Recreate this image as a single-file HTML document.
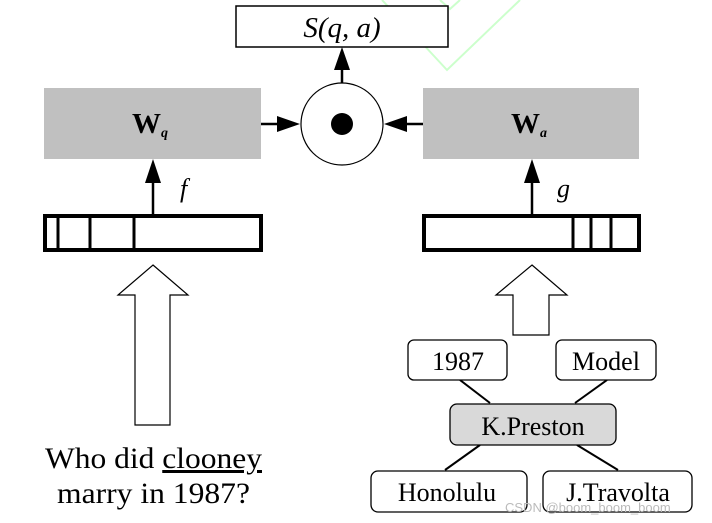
<!DOCTYPE html>
<html><head><style>body{margin:0;background:#fff}svg{display:block}</style></head><body>
<svg width="712" height="523" viewBox="0 0 712 523" xmlns="http://www.w3.org/2000/svg" font-family="Liberation Serif, serif">
<polyline points="382,0 447,70 520,0" fill="none" stroke="#ccffcc" stroke-width="2"/>
<polyline points="440,0 450,9 460,0" fill="none" stroke="#ccffcc" stroke-width="2"/>
<rect x="236" y="6" width="212" height="41" fill="#fff" stroke="#000" stroke-width="1.5"/>
<text x="342" y="37" font-size="29" font-style="italic" text-anchor="middle">S(q, a)</text>
<rect x="44" y="88" width="217" height="71" fill="#c0c0c0"/>
<rect x="423" y="88" width="216" height="71" fill="#c0c0c0"/>
<text x="132" y="133" font-size="29" font-weight="bold">W<tspan font-size="14" font-style="italic" dy="4">q</tspan></text>
<text x="511" y="133" font-size="29" font-weight="bold">W<tspan font-size="14" font-style="italic" dy="4">a</tspan></text>
<circle cx="342" cy="124" r="41" fill="#fff" stroke="#000" stroke-width="1.2"/>
<circle cx="342" cy="124" r="11" fill="#000"/>
<g stroke="#000" stroke-width="2.5">
<line x1="342" y1="83" x2="342" y2="65"/>
<line x1="261" y1="124" x2="282" y2="124"/>
<line x1="423" y1="124" x2="402" y2="124"/>
<line x1="153" y1="215" x2="153" y2="180"/>
<line x1="532" y1="215" x2="532" y2="180"/>
</g>
<polygon points="342,47 334,70 350,70"/>
<polygon points="300,124 277,116 277,132"/>
<polygon points="384,124 407,116 407,132"/>
<polygon points="153,159 145,183 161,183"/>
<polygon points="532,159 524,183 540,183"/>
<text x="180" y="197" font-size="26" font-style="italic">f</text>
<text x="557" y="197" font-size="26" font-style="italic">g</text>
<g fill="#fff" stroke="#000" stroke-width="4">
<rect x="45" y="216" width="216" height="34"/>
<rect x="424" y="216" width="215" height="34"/>
</g>
<g stroke="#000" stroke-width="3">
<line x1="58" y1="216" x2="58" y2="250"/><line x1="90" y1="216" x2="90" y2="250"/><line x1="134" y1="216" x2="134" y2="250"/>
<line x1="573" y1="216" x2="573" y2="250"/><line x1="591" y1="216" x2="591" y2="250"/><line x1="611" y1="216" x2="611" y2="250"/>
</g>
<polygon points="153,265 188,295 170,295 170,425 135,425 135,295 118,295" fill="#fff" stroke="#000" stroke-width="1.2"/>
<polygon points="532,265 567,295 549,295 549,335 513,335 513,295 496,295" fill="#fff" stroke="#000" stroke-width="1.2"/>
<text x="45" y="468" font-size="30" textLength="217" lengthAdjust="spacingAndGlyphs">Who did <tspan text-decoration="underline">clooney</tspan></text>
<text x="57" y="503" font-size="30" textLength="193" lengthAdjust="spacingAndGlyphs">marry in 1987?</text>
<g stroke="#000" stroke-width="2">
<line x1="460" y1="380" x2="490" y2="403"/><line x1="607" y1="380" x2="575" y2="403"/>
<line x1="480" y1="445" x2="445" y2="470"/><line x1="577" y1="445" x2="618" y2="470"/>
</g>
<g stroke="#000" stroke-width="1.3" fill="#fff">
<rect x="408" y="340" width="99" height="40" rx="6"/>
<rect x="556" y="340" width="100" height="40" rx="6"/>
<rect x="450" y="404" width="166" height="41" rx="7" fill="#d9d9d9"/>
<rect x="371" y="471" width="156" height="41" rx="7"/>
<rect x="543" y="471" width="149" height="41" rx="7"/>
</g>
<g font-size="26" text-anchor="middle">
<text x="458" y="370">1987</text>
<text x="606" y="370">Model</text>
<text x="533" y="435">K.Preston</text>
<text x="447" y="501">Honolulu</text>
<text x="618" y="501">J.Travolta</text>
</g>
<text x="505" y="512" font-size="13" fill="#bbb" font-family="Liberation Sans, sans-serif">CSDN @boom_boom_boom</text>
</svg>
</body></html>
